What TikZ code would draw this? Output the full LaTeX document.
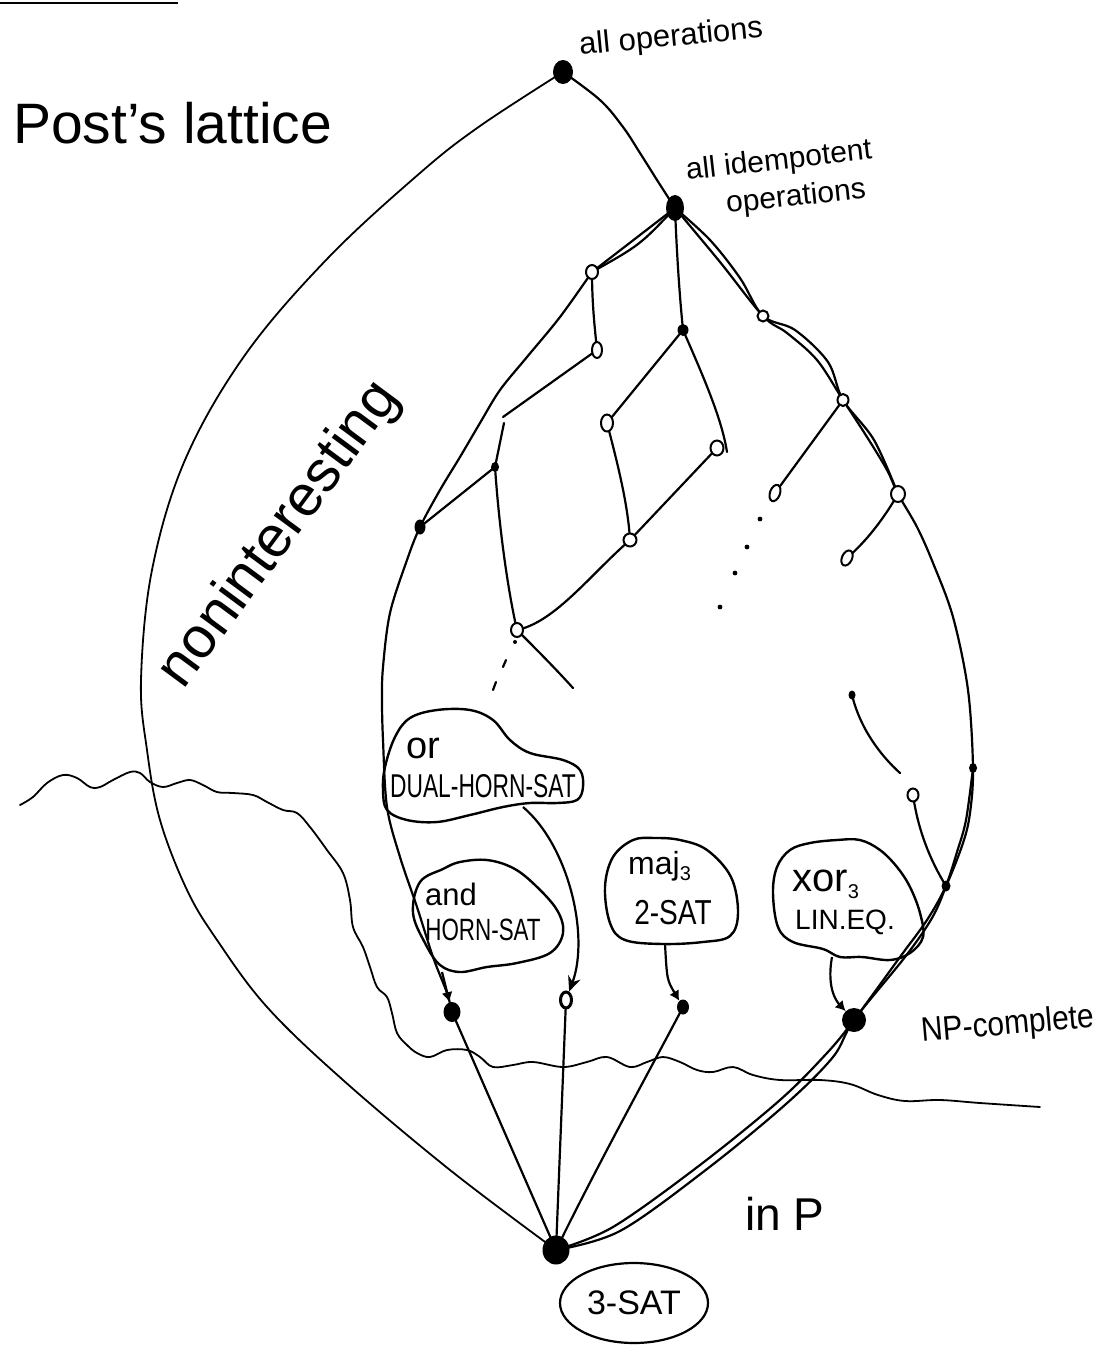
\documentclass[tikz,border=0pt]{standalone}
\usepackage{fontspec}
\setmainfont{Liberation Sans}
\usepackage{graphicx}
\usetikzlibrary{arrows.meta,shapes.geometric}
\pgfdeclarelayer{background}
\pgfsetlayers{background,main}
\newcommand\myfs[1]{\fontsize{#1}{#1}\selectfont}
\tikzset{
  fd/.style={ellipse,fill=black,inner sep=0pt},
  od/.style={ellipse,draw=black,fill=white,line width=2pt,inner sep=0pt},
  lat/.style={line width=2.2pt,line cap=round,line join=round},
  outerline/.style={line width=1.8pt,line cap=round,line join=round},
  blob/.style={line width=2.4pt,line join=round},
  wave/.style={line width=1.8pt,line cap=round,line join=round},
  arrA/.style={line width=2.2pt,-{Stealth[length=15pt,width=13pt]}},
  arrB/.style={line width=2.2pt,-{Latex[length=10pt,width=11pt]}},
  hand/.style={text=black,inner sep=0pt},
}
\begin{document}
\begin{tikzpicture}[x=1pt,y=-1pt]
\useasboundingbox (0,0) rectangle (1104,1345);

% ---------- lattice points ----------
\node[fd,minimum width=20pt,minimum height=24pt] (top) at (563,72) {};
\node[fd,minimum width=18pt,minimum height=26pt] (idem) at (675,208) {};
\node[od,minimum width=12pt,minimum height=14pt] (n1) at (592,272) {};
\node[od,minimum width=10pt,minimum height=16pt] (n2) at (597,350) {};
\node[fd,minimum width=11pt,minimum height=12pt] (nA) at (683,330) {};
\node[fd,minimum width=8pt,minimum height=10pt] (nB) at (495,467) {};
\node[fd,minimum width=11pt,minimum height=15pt] (nL) at (420,527) {};
\node[od,minimum width=12pt,minimum height=17pt] (nD1) at (607,423) {};
\node[od,minimum width=13pt,minimum height=15pt] (nD2) at (717,448) {};
\node[od,minimum width=13pt,minimum height=13pt] (nD3) at (630,540) {};
\node[od,minimum width=12pt,minimum height=14pt] (nC) at (517,630) {};
\node[od,minimum width=11pt,minimum height=11pt] (nR1) at (763,316) {};
\node[od,minimum width=11pt,minimum height=12pt] (nR2) at (843,400) {};
\node[od,minimum width=10pt,minimum height=17pt,rotate=-20] (nR3) at (775,493) {};
\node[od,minimum width=14pt,minimum height=16pt] (nR4) at (898,494) {};
\node[od,minimum width=10pt,minimum height=16pt,rotate=-25] (nR5) at (847,558) {};
\node[fd,minimum width=7pt,minimum height=9pt] (nS) at (852,695) {};
\node[od,minimum width=11pt,minimum height=13pt] (nT) at (913,795) {};
\node[fd,minimum width=8pt,minimum height=10pt] (nU) at (973,768) {};
\node[fd,minimum width=9pt,minimum height=11pt] (nV) at (946,886) {};
\node[fd,minimum width=17pt,minimum height=20pt] (andN) at (452,1012) {};
\node[od,line width=3pt,minimum width=11pt,minimum height=16pt] (orN) at (566,1000) {};
\node[fd,minimum width=12pt,minimum height=15pt] (majN) at (683,1007) {};
\node[fd,minimum width=24pt,minimum height=24pt] (npN) at (854,1020) {};
\node[fd,minimum width=27pt,minimum height=29pt] (sat) at (556,1250) {};

% free ends
\coordinate (gapA) at (503,417);
\coordinate (gapB) at (504,423);
\coordinate (freeA) at (727,452);
\coordinate (freeC) at (573,688);
\coordinate (freeS) at (900,773);

% ---------- texts ----------
\node[hand,anchor=base west,font=\myfs{57}] (title) at (13,143) {Post's lattice};
\node[hand,anchor=base west,rotate=5.5,font=\myfs{31}] (lblTop) at (580,55) {all operations};
\node[hand,anchor=base west,rotate=6.5,font=\myfs{30}] (lblIdemA) at (687,180) {all idempotent};
\node[hand,anchor=base west,rotate=6,font=\myfs{30}] (lblIdemB) at (727,213) {operations};
\node[hand,anchor=base,rotate=53.5,font=\myfs{58}] (nonint) at (292,544) {noninteresting};
\node[hand,anchor=base west,font=\myfs{46}] (inP) at (745,1230) {in P};
\node[hand,anchor=base west,rotate=5,font=\myfs{34}] (npLbl) at (922,1042) {\scalebox{0.88}[1]{NP-complete}};

% 3-SAT ellipse
\node[ellipse,draw,line width=2.2pt,minimum width=148pt,minimum height=80pt,inner sep=0pt,font=\myfs{34}] (satLbl) at (634,1303) {3-SAT};

% blob texts
\node[hand,anchor=base west,font=\myfs{38}] (tOr) at (406,758) {or};
\node[hand,font=\myfs{30}] (tDual) at (483,786) {\scalebox{0.76}[1.1]{DUAL-HORN-SAT}};
\node[hand,anchor=base west,font=\myfs{31}] (tAnd) at (425,905) {and};
\node[hand,font=\myfs{28}] (tHorn) at (483,930) {\scalebox{0.8}[1.1]{HORN-SAT}};
\node[hand,anchor=base west,font=\myfs{32}] (tMaj) at (628,874) {maj\raisebox{-6pt}{\myfs{20}3}};
\node[hand,font=\myfs{33}] (tTwo) at (673,913) {\scalebox{0.85}[1.05]{2-SAT}};
\node[hand,anchor=base west,font=\myfs{40}] (tXor) at (792,891) {xor\raisebox{-7pt}{\myfs{20}3}};
\node[hand,font=\myfs{28}] (tLin) at (845,922) {LIN.EQ.};

% blob outlines
\draw[blob] plot[smooth cycle,tension=0.6] coordinates {(385,767) (395,737) (410,718) (437,710) (470,710) (493,720) (510,740) (530,753) (563,760) (580,770) (583,787) (577,800) (557,803) (530,803) (503,807) (470,815) (437,822) (407,820) (387,810) (383,790)};
\draw[blob] plot[smooth cycle,tension=0.6] coordinates {(443,869) (420,882) (413,913) (425,943) (440,965) (460,972) (487,967) (517,963) (550,953) (563,933) (557,910) (535,885) (513,868) (487,860) (460,862)};
\draw[blob] plot[smooth cycle,tension=0.6] coordinates {(633,840) (613,857) (605,887) (610,923) (625,940) (663,944) (703,942) (730,936) (738,913) (731,877) (707,850) (680,840) (655,838)};
\draw[blob] plot[smooth cycle,tension=0.6] coordinates {(790,850) (777,867) (773,893) (778,927) (793,942) (823,949) (840,957) (862,957) (890,960) (910,953) (923,937) (920,913) (910,887) (897,867) (880,850) (860,840) (837,840) (810,843)};

% blob arrows
\coordinate (orS) at (523,807);
\coordinate (andS) at (442,972);
\coordinate (majS) at (665,944);
\coordinate (xorS) at (832,957);
\draw[arrA] (orS) .. controls (568,845) and (590,935) .. (orN);
\draw[arrB] (andS) -- (andN);
\draw[arrB] (majS) .. controls (667,980) .. (majN);
\draw[arrB] (xorS) .. controls (826,990) and (838,1003) .. (npN);

% ---------- lines (behind the points) ----------
\begin{pgfonlayer}{background}
\fill[white] (0,0) rectangle (1104,1345);
\draw[line width=1.5pt] (0,3) -- (178,3);

% wavy border
\draw[wave] plot[smooth,tension=0.6] coordinates {(20,805) (33,797) (47,783) (63,775) (77,778) (90,787) (100,787) (113,780) (130,772) (140,773) (150,782) (163,787) (177,783) (190,780) (203,785) (217,792) (233,793) (253,795) (267,802) (283,810) (297,813) (310,827) (327,850) (343,873) (350,900) (353,927) (363,947) (370,967) (377,987) (387,997) (392,1013) (397,1033) (407,1045) (417,1053) (430,1057) (447,1050) (467,1050) (480,1057) (493,1067) (513,1065) (533,1062) (563,1067) (587,1062) (607,1057) (630,1067) (647,1062) (663,1057) (680,1062) (697,1070) (713,1072) (733,1067) (753,1075) (780,1080) (820,1080) (850,1084) (878,1095) (905,1101) (940,1100) (980,1103) (1040,1107)};

% outer lens
\draw[outerline] plot[smooth,tension=0.6] coordinates {(top.center) (480,126) (420,173) (328,258) (245,355) (185,460) (152,570) (141,680) (147,750) (160,820) (187,890) (217,940) (267,1007) (343,1080) (450,1170) (sat.center)};
% top to idempotent
\draw[lat] plot[smooth,tension=0.6] coordinates {(top.center) (600,100) (623,127) (640,153) (657,180) (idem.center)};

% right curve (double strokes)
\draw[lat] plot[smooth,tension=0.55] coordinates {(idem.center) (720,262) (nR1.center) (787,333) (817,360) (nR2.center) (867,437) (887,470) (nR4.center) (917,527) (933,563) (953,617) (968,690) (nU.center) (970,813) (963,843) (nV.center) (927,920) (900,957) (npN.center) (827,1053) (780,1100) (700,1165) (613,1227) (sat.center)};
\draw[lat] plot[smooth,tension=0.55] coordinates {(idem.center) (710,240) (740,278) (nR1.center) (795,330) (828,362) (nR2.center) (874,440) (nR4.center)};
\draw[lat] plot[smooth,tension=0.55] coordinates {(nU.center) (966,820) (957,852) (nV.center) (932,918) (905,957) (npN.center) (833,1057) (786,1104) (707,1169) (620,1231) (sat.center)};

% left inner curve
\draw[lat] (idem.center) -- (n1.center);
\draw[lat] (idem.center) .. controls (640,245) .. (n1.center);
\draw[lat] plot[smooth,tension=0.55] coordinates {(n1.center) (560,317) (527,357) (500,390) (480,423) (460,457) (440,490) (nL.center) (407,560) (390,613) (383,667) (382,700) (383,740) (387,807) (400,857) (417,907) (433,957) (447,993) (andN.center)};

% inner lattice
\draw[lat] (n1.center) .. controls (592,305) and (595,330) .. (n2.center);
\draw[lat] (n2.center) -- (gapA);
\draw[lat] (gapB) -- (nB.center);
\draw[lat] (nB.center) -- (nL.center);
\draw[lat] (nB.center) .. controls (500,540) and (510,600) .. (nC.center);
\draw[lat] (idem.center) .. controls (677,260) and (680,300) .. (nA.center);
\draw[lat] (nA.center) -- (nD1.center);
\draw[lat] (nA.center) .. controls (705,380) and (722,420) .. (freeA);
\draw[lat] (nD1.center) .. controls (618,465) and (628,505) .. (nD3.center);
\draw[lat] (nD3.center) -- (nD2.center);
\draw[lat] (nD3.center) .. controls (590,575) and (555,622) .. (nC.center);
\draw[lat] (nC.center) .. controls (535,648) and (555,668) .. (freeC);
\draw[lat] (nR2.center) -- (nR3.center);
\draw[lat] (nR4.center) .. controls (880,525) and (862,545) .. (nR5.center);
\draw[lat] (nS.center) .. controls (860,728) and (880,755) .. (freeS);
\draw[lat] (nT.center) .. controls (918,830) and (930,860) .. (nV.center);

% dots
\fill (515,642) circle (2pt);
\draw[lat] (506,660) -- (503,667);
\draw[lat] (496,682) -- (493,690);
\fill (760,519) circle (2.4pt);
\fill (747,547) circle (2.4pt);
\fill (735,573) circle (2.4pt);
\fill (720,607) circle (2.4pt);

% to 3-SAT
\draw[lat] (andN.center) -- (sat.center);
\draw[lat] (orN.center) -- (sat.center);
\draw[lat] (majN.center) .. controls (650,1070) and (600,1160) .. (sat.center);
\end{pgfonlayer}
\end{tikzpicture}
\end{document}
